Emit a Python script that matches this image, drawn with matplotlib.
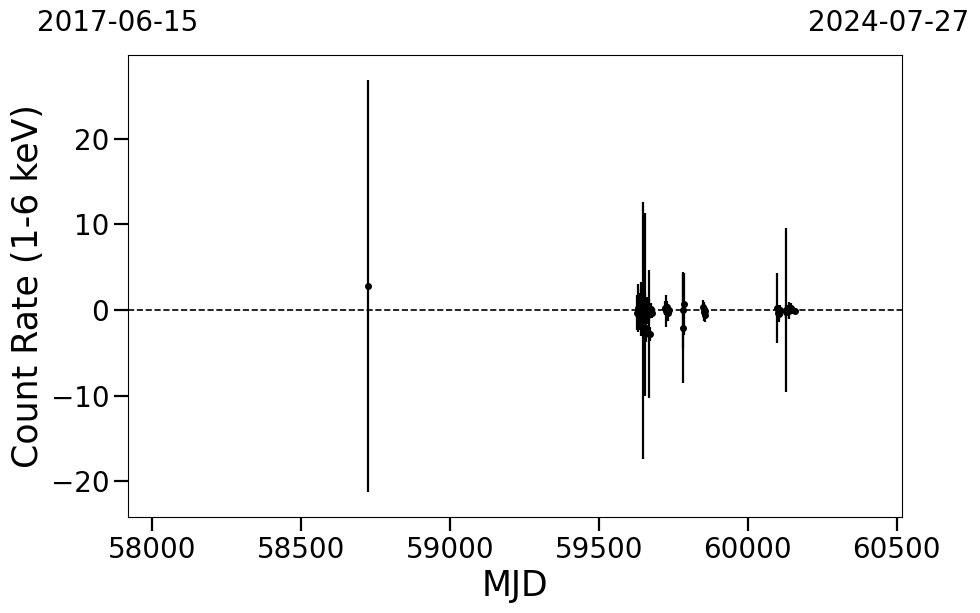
import matplotlib
matplotlib.use("Agg")
import matplotlib.pyplot as plt

mjd = [58724,
       59628, 59630, 59633, 59636, 59638, 59640, 59642, 59645, 59648, 59650,
       59654, 59653, 59656, 59658, 59660, 59662, 59665, 59669, 59667, 59672,
       59675, 59678,
       59722, 59725, 59728, 59731, 59734,
       59783, 59784, 59785,
       59850, 59852, 59854, 59856, 59858,
       60097, 60100, 60103, 60106, 60110, 60127, 60130, 60135, 60140, 60145,
       60150, 60158]
rate = [2.8,
        -0.3, 0.2, -0.5, 0.4, -0.2, 0.6, 0.1, 0.5, -2.4, 0.3,
        0.6, -0.3, 0.2, -2.1, -0.4, 0.3, -0.6, -2.8, 0.0, -2.8,
        0.1, -0.3,
        0.2, -0.1, 0.3, -0.3, 0.0,
        0.0, -2.1, 0.7,
        0.3, -0.2, 0.1, -0.6, -0.1,
        0.2, -0.3, 0.1, -0.5, 0.0, 0.0, -0.2, 0.1, -0.1, 0.2,
        0.0, -0.1]
err = [24.1,
       2.0, 2.8, 1.5, 1.2, 2.2, 1.8, 3.2, 2.5, 15.0, 3.0,
       10.7, 2.4, 1.8, 1.6, 1.5, 1.2, 1.0, 7.5, 1.3, 0.8,
       0.7, 0.6,
       0.8, 1.9, 0.7, 1.0, 0.6,
       4.4, 6.4, 3.6,
       0.9, 1.1, 0.6, 0.8, 0.5,
       4.1, 0.7, 0.5, 0.9, 0.6, 9.6, 0.8, 0.5, 1.0, 0.6,
       0.4, 0.3]

xlim = (57919, 60518)
xlabels_top = ["2017-06-15", "2024-07-27"]

fig = plt.figure(figsize=(9.8, 6.13), dpi=100)
ax = fig.add_axes([0.1306, 0.1566, 0.7898, 0.7537])
ax.errorbar(mjd, rate, yerr=err, fmt="o", color="black", ms=4, elinewidth=1.6, capsize=0)
ax.axhline(0, color="black", ls="--", lw=1.2)
ax.set_xlim(*xlim)
ax.set_ylim(-24.2, 29.8)
ax.set_xticks([58000, 58500, 59000, 59500, 60000, 60500])
ax.set_yticks([-20, -10, 0, 10, 20])
ax.tick_params(labelsize=20, length=10, width=1.6)
ax.set_xlabel("MJD", fontsize=25)
ax.set_ylabel("Count Rate (1-6 keV)", fontsize=25)
fig.text(118/980, 1 - 23/613, xlabels_top[0], ha="center", va="center", fontsize=20)
fig.text(889/980, 1 - 23/613, xlabels_top[1], ha="center", va="center", fontsize=20)
fig.savefig("out.png", dpi=100)
